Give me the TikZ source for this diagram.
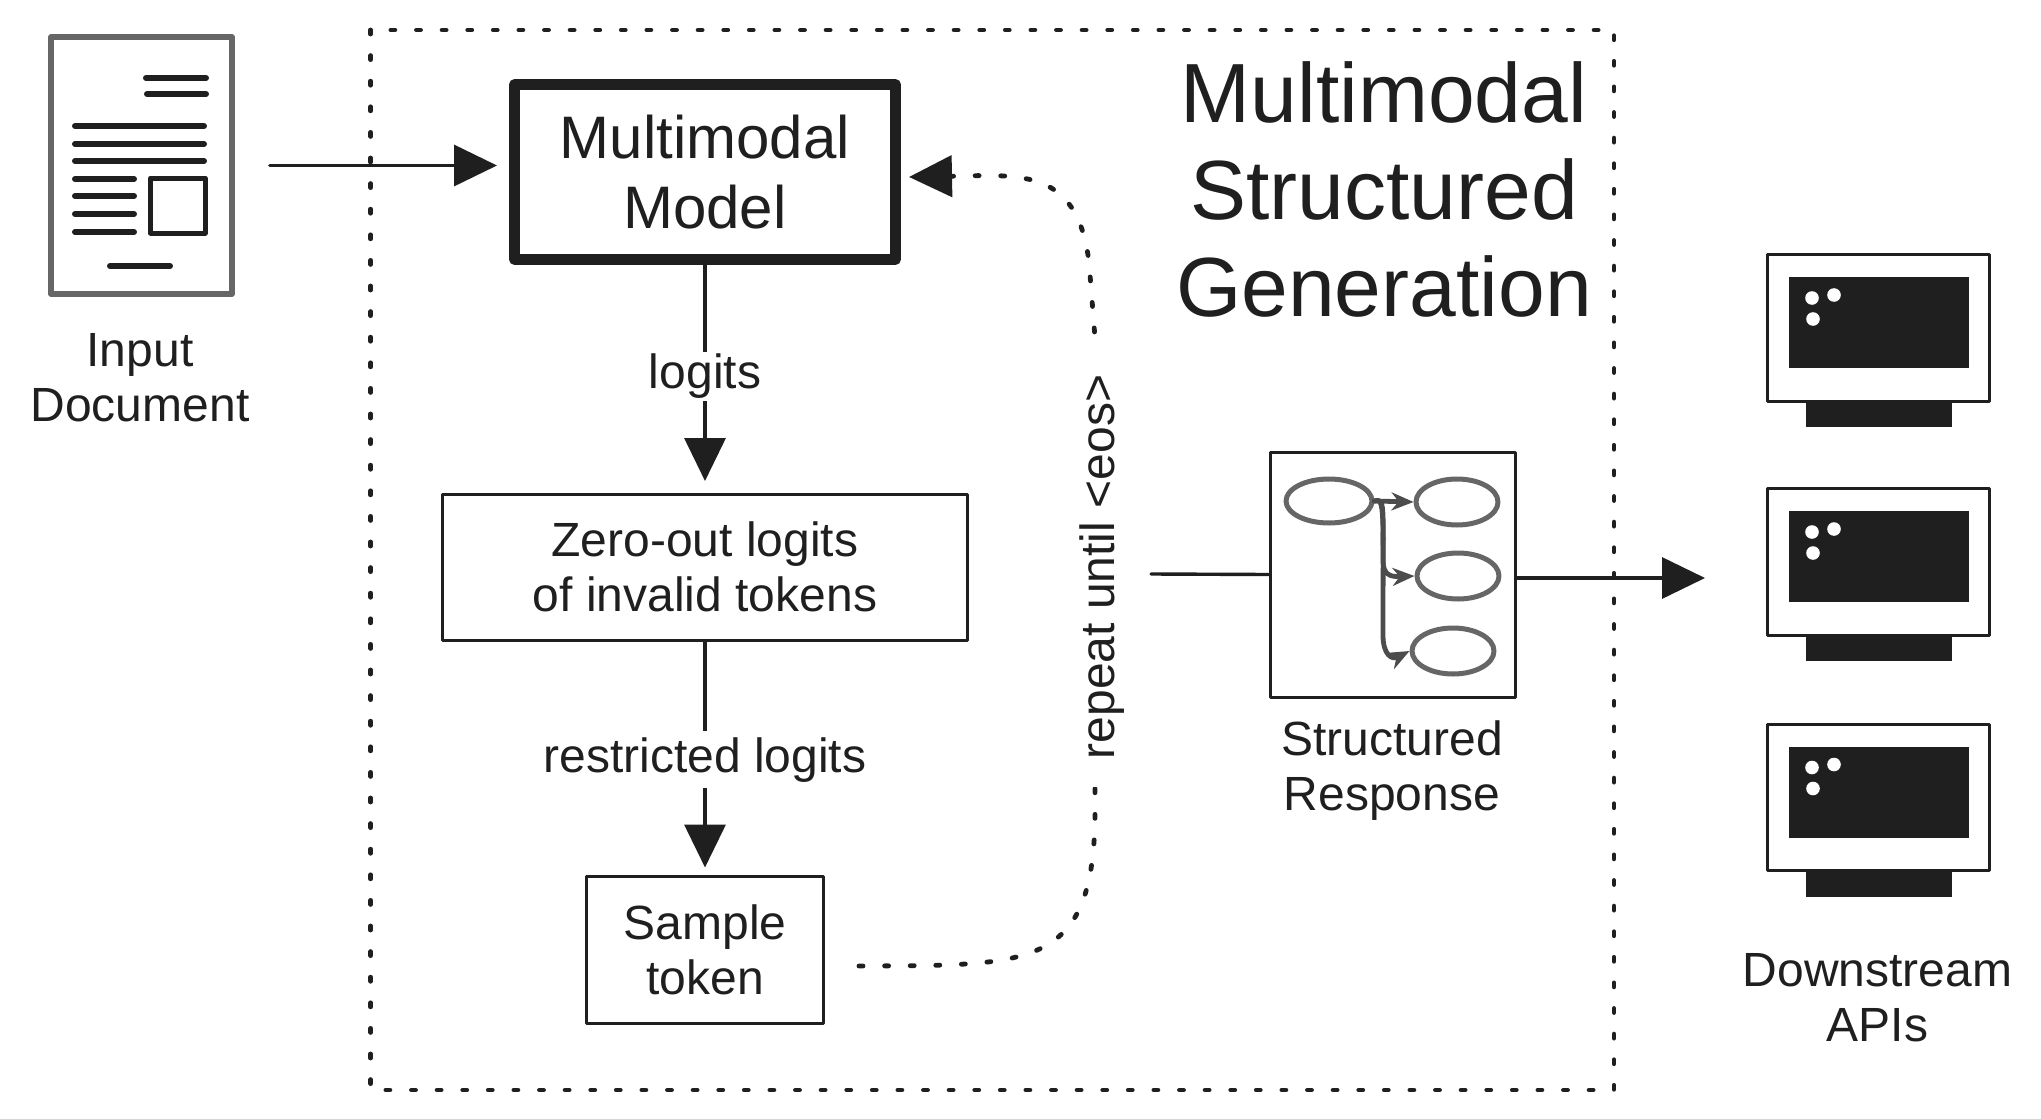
\documentclass[tikz,border=0pt]{standalone}
\usepackage{fontspec}
\setmainfont{Liberation Sans}
\usetikzlibrary{arrows.meta,shapes.geometric}
\definecolor{ink}{HTML}{1F1F1F}
\definecolor{inkgray}{HTML}{666666}
\begin{document}
\begin{tikzpicture}[line cap=round,line join=round,x=0.5pt,y=-0.5pt,color=ink,
    bighead/.style={-{Triangle[length=21.5pt,width=20.5pt]}},
    conn/.style={line width=1.7pt,bighead},
    dotted frame/.style={line width=2.4pt,dash pattern=on 2pt off 10.8pt},
    txt/.style={font=\fontsize{24}{27.5}\selectfont,align=center,inner sep=0pt},
    plainbox/.style={draw,line width=1.5pt,inner sep=0pt,font=\fontsize{24}{27.5}\selectfont,align=center},
    docline/.style={line width=3pt},
    ovalnode/.style={ellipse,draw=inkgray,line width=2.5pt,inner sep=0pt,minimum width=41pt,minimum height=23pt},
    treeedge/.style={line width=2.4pt,draw=ink!80,-{Stealth[length=11pt,width=9pt]}}]
    \useasboundingbox (0,0) rectangle (2041,1119);
    % outer frame
    \draw [dotted frame] (370.7,30) rectangle (1614,1090);
    % document icon
    \node [draw=inkgray,line width=2.8pt,inner sep=0pt,minimum width=90.5pt,minimum height=128.5pt] (doc) at (141.5,165.5) {};
    \draw [docline] (146,78)-- (206,78);
    \draw [docline] (147,94)-- (206,94);
    \foreach \ly in {126,144,161}
      \draw [docline] (75,\ly)-- (204,\ly);
    \foreach \ly in {179,196,214,232}
      \draw [docline] (75,\ly)-- (134,\ly);
    \draw [docline] (110,266)-- (170,266);
    \draw [line width=2.5pt] (150.5,178) rectangle (205,233);
    \node [txt] (doclabel) at (140,377.5) {Input\\Document};
    % main boxes
    \node [plainbox,line width=5.5pt,minimum width=190.5pt,minimum height=87.25pt,font=\fontsize{30}{35}\selectfont] (model) at (705,172) {Multimodal\\Model};
    \node [plainbox,minimum width=262.5pt,minimum height=73pt] (zero) at (705,567) {Zero-out logits\\of invalid tokens};
    \node [plainbox,minimum width=118.5pt,minimum height=73.5pt] (sample) at (705,949.5) {Sample\\token};
    \node [txt,font=\fontsize{42}{48.5}\selectfont] (title) at (1384,189) {Multimodal\\Structured\\Generation};
    \draw [conn,shorten <=17.5pt,shorten >=6pt] (doc.east)-- (doc.east -| model.west);
    \draw [conn,shorten >=5.75pt] (model.south)-- node[txt,fill=white,pos=0.49,inner sep=1pt] (logits) {logits} (zero.north);
    \draw [conn,shorten >=3.5pt] (zero.south)-- node[txt,fill=white,pos=0.507,inner sep=3pt] (restricted) {restricted logits} (sample.north);
    % feedback loop
    \coordinate (sampleout) at (859,966);
    \coordinate (modelin) at (909,177);
    \draw [dotted frame,bighead] (sampleout) .. controls (1030,965) and (1092,970) .. (1095,819)
      -- (1095,338) -- (1089,262) .. controls (1078,175) and (1030,174) .. (963,176) -- (modelin);
    \node [txt,fill=white,rotate=90,minimum width=220pt] (repeatlabel) at (1102,567) {repeat until <eos>};
    % structured response
    \node [plainbox,minimum width=122.5pt,minimum height=122.5pt] (resp) at (1392.5,574.5) {};
    \node [txt] (resplabel) at (1392,771) {Structured\\Response};
    \coordinate (respin) at (1151,574);
    \coordinate (apitip) at (1712,578);
    \draw [line width=1.7pt] (respin)-- (resp.west);
    \draw [conn,shorten >=3.5pt] (resp.east |- apitip)-- (apitip);
    \node [ovalnode,minimum width=43pt,minimum height=22pt] (oval0) at (1329,501) {};
    \node [ovalnode] (oval1) at (1457,502) {};
    \node [ovalnode] (oval2) at (1458,576) {};
    \node [ovalnode] (oval3) at (1453,651) {};
    \draw [treeedge] (oval0.east)-- (oval1.west);
    \draw [treeedge] (oval0.east) .. controls (1385,497) and (1383,510) .. (1383,560) .. controls (1383,575) and (1390,577) .. (oval2.west);
    \draw [treeedge] (oval0.east) .. controls (1385,497) and (1383,510) .. (1383,635) .. controls (1383,655) and (1392,660) .. (oval3.west);
    % downstream monitors
    \foreach \i/\my in {0/0,1/234,2/469.5} {
      \node [draw,line width=1.5pt,inner sep=0pt,minimum width=110.75pt,minimum height=73.25pt] (mon\i) at (1878.7,327.75+\my) {};
      \fill (1789,277+\my) rectangle (1969,368+\my);
      \fill (1806,402+\my) rectangle (1952,427+\my);
      \fill [white] (1812,298+\my) circle (3.4pt);
      \fill [white] (1834,295+\my) circle (3.4pt);
      \fill [white] (1813,319+\my) circle (3.4pt);
    }
    \node [txt] (apilabel) at (1877.5,998) {Downstream\\APIs};
\end{tikzpicture}
\end{document}
